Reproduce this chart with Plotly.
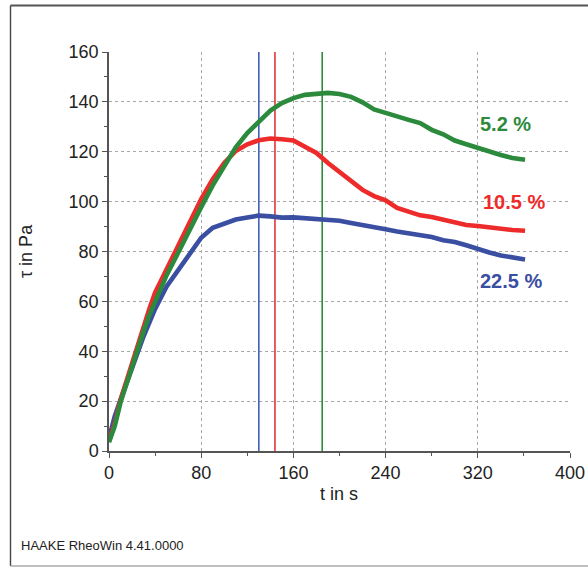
import plotly.graph_objects as go

# ---- data ----
t = [0, 2, 5, 10, 15, 20, 25, 30, 35, 40, 50, 60, 70, 80, 90, 100, 110, 120, 130, 140,
     150, 160, 170, 180, 190, 200, 210, 220, 230, 240, 250, 260, 270, 280, 290, 300,
     310, 320, 330, 340, 350, 361]
tau_52 = [3.5, 6, 10, 19.5, 27, 34.5, 41.5, 48, 54.5, 60, 70.5, 79.5, 89, 97.8, 106.5,
          114.5, 121.8, 127.5, 132.2, 136.5, 139.5, 141.5, 142.8, 143.3, 143.6, 143.2,
          142, 139.8, 137, 135.6, 134, 132.8, 131.5, 128.8, 127, 124.5, 123, 121.5, 120,
          118.7, 117.5, 116.8]
tau_105 = [4, 7, 11, 20.5, 28, 35.5, 43, 50, 57, 63.5, 72.7, 82.5, 92, 101, 109, 115.5,
           120.3, 123, 124.6, 125.3, 125, 124.5, 122, 119.5, 115.5, 112, 108, 104.7, 102.2,
           100.5, 97.5, 96, 94.5, 93.8, 92.8, 91.5, 90.6, 90.2, 89.6, 88.9, 88.6, 88.3]
tau_225 = [5, 9, 14, 20.5, 27, 33.5, 40, 46, 51.5, 57, 66, 72.5, 79, 85.5, 89.5, 91.2,
           92.8, 93.6, 94.4, 94.1, 93.6, 93.7, 93.4, 93.1, 92.9, 92.3, 91.4, 90.7, 90,
           88.9, 88, 87.3, 86.6, 85.8, 84.5, 83.8, 82.5, 80.9, 79.6, 78.4, 77.7, 76.8]
labels = ["5.2 %", "10.5 %", "22.5 %"]
peak_t = [185, 144, 130]          # vertical marker lines (green, red, blue)
label_pos = [(320, 131), (322.5, 100), (320, 68)]
colors = ["#2B8A3C", "#EE2B2B", "#3A4EA2"]
vcolors = ["#2E8B3E", "#E53535", "#4060B5"]
x_ticks = [0, 80, 160, 240, 320, 400]
y_ticks = [0, 20, 40, 60, 80, 100, 120, 140, 160]

FONT = "Liberation Sans, Arial, sans-serif"

fig = go.Figure()
# vertical lines behind curves
for pt, vc in zip(peak_t, vcolors):
    fig.add_trace(go.Scatter(x=[pt, pt], y=[0, 160], mode="lines",
                             line=dict(color=vc, width=1.6), showlegend=False,
                             hoverinfo="skip"))
for ys, c in zip([tau_225, tau_105, tau_52], [colors[2], colors[1], colors[0]]):
    fig.add_trace(go.Scatter(x=t, y=ys, mode="lines",
                             line=dict(color=c, width=4.6), showlegend=False))

for (lx, ly), txt, c in zip(label_pos, labels, colors):
    fig.add_annotation(x=lx, y=ly, xref="x", yref="y", text="<b>%s</b>" % txt,
                       showarrow=False, xanchor="left", yanchor="middle",
                       font=dict(family=FONT, size=20, color=c))

axis_common = dict(
    showline=True, linecolor="#555555", linewidth=1.5, automargin=False,
    ticks="outside", ticklen=5, tickwidth=1.2, tickcolor="#555555",
    showgrid=True, gridcolor="#A8A8A8", gridwidth=1, griddash="3px,3px",
    zeroline=False, tickfont=dict(family=FONT, size=18, color="#222222"),
)
fig.update_xaxes(range=[0, 400], tickvals=x_ticks,
                 minor=dict(tickvals=[40, 120, 200, 280, 360], ticklen=3,
                            tickcolor="#555555", showgrid=False),
                 **axis_common)
fig.update_yaxes(range=[0, 160], tickvals=y_ticks,
                 minor=dict(tickvals=[10, 30, 50, 70, 90, 110, 130, 150], ticklen=3,
                            tickcolor="#555555", showgrid=False),
                 **axis_common)

L, R, T, B = 109, 18, 52, 116
W, H = 588, 567
pw, ph = W - L - R, H - T - B


def px(x):
    return (x - L) / pw


def py(y):
    return (H - B - y) / ph


fig.add_annotation(x=px(338.5), y=py(494), xref="paper", yref="paper", text="t in s",
                   showarrow=False, xanchor="center", yanchor="middle",
                   font=dict(family=FONT, size=18, color="#222222"))
fig.add_annotation(x=px(26), y=py(251), xref="paper", yref="paper", text="τ in Pa",
                   showarrow=False, textangle=-90, xanchor="center", yanchor="middle",
                   font=dict(family=FONT, size=18, color="#222222"))
fig.add_annotation(x=px(19), y=py(545), xref="paper", yref="paper",
                   text="HAAKE RheoWin 4.41.0000", showarrow=False, xanchor="left",
                   yanchor="middle",
                   font=dict(family=FONT, size=13, color="#222222"))

# outer frame
fig.add_shape(type="line", xref="paper", yref="paper", x0=px(10.5), x1=px(600),
              y0=py(5.5), y1=py(5.5), line=dict(color="#555555", width=2))
fig.add_shape(type="line", xref="paper", yref="paper", x0=px(10.5), x1=px(10.5),
              y0=py(5.5), y1=py(566), line=dict(color="#444444", width=1.4))
fig.add_shape(type="line", xref="paper", yref="paper", x0=px(10.5), x1=px(600),
              y0=py(566), y1=py(566), line=dict(color="#AAAAAA", width=1.5))

fig.update_layout(width=W, height=H, margin=dict(l=L, r=R, t=T, b=B),
                  paper_bgcolor="white", plot_bgcolor="white", showlegend=False)

fig.write_html("out.html")
